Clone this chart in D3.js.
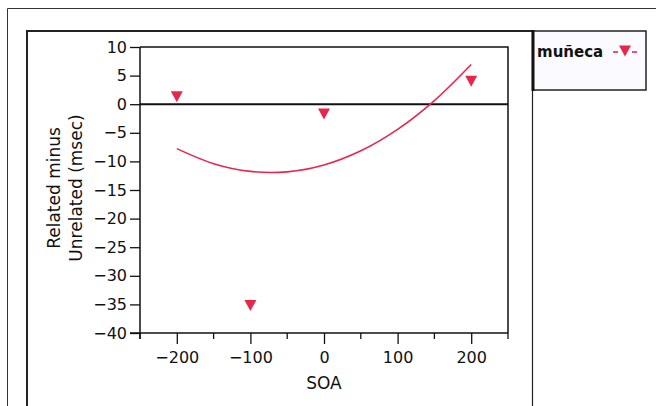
<!DOCTYPE html>
<html><head><meta charset="utf-8">
<script src="https://cdn.jsdelivr.net/npm/d3@7"></script>
<style>html,body{margin:0;padding:0;background:#fff;}svg{display:block;font-family:"DejaVu Sans",sans-serif;}</style>
</head><body>
<svg id="c" width="656" height="406"></svg>
<script>
// Data
const soa = [-200, -100, 0, 200];
const diff = [1.3, -35.2, -1.7, 4.0];
// Fitted curve
const curveX = [-200, -150, -100, -50, 0, 50, 100, 150, 200];
const curveY = [-7.77, -10.4, -11.75, -11.83, -10.63, -8.15, -4.4, 0.63, 6.94];
const yTicks = [10, 5, 0, -5, -10, -15, -20, -25, -30, -35, -40];
const xMajor = [-200, -100, 0, 100, 200];
const xMinor = [-250, -150, -50, 50, 150, 250];
const seriesName = "muñeca";
const red = "#e8264c";

const svg = d3.select("#c");
const x = d3.scaleLinear().domain([-250, 250]).range([140, 508]);
const y = d3.scaleLinear().domain([-40, 10]).range([333, 47]);

// outer frames
svg.append("path").attr("d", "M7.5,406 V8.5 H656").attr("fill", "none").attr("stroke", "#333").attr("stroke-width", 1);
svg.append("path").attr("d", "M27,406 V31 H533").attr("fill", "none").attr("stroke", "#222").attr("stroke-width", 2);
svg.append("line").attr("x1", 532.5).attr("x2", 532.5).attr("y1", 31).attr("y2", 406).attr("stroke", "#222").attr("stroke-width", 1.2);

// legend
const lg = svg.append("g");
lg.append("rect").attr("x", 533).attr("y", 31).attr("width", 113).attr("height", 59)
  .attr("fill", "#fbfbff").attr("stroke", "#222").attr("stroke-width", 1.5);
lg.append("line").attr("x1", 533).attr("x2", 533).attr("y1", 30).attr("y2", 91).attr("stroke", "#111").attr("stroke-width", 3);
lg.append("text").attr("x", 537).attr("y", 57).attr("font-size", 15).attr("font-weight", "bold").attr("fill", "#111").text(seriesName);
lg.append("line").attr("x1", 613).attr("x2", 618).attr("y1", 52).attr("y2", 52).attr("stroke", red).attr("stroke-width", 1.6);
lg.append("line").attr("x1", 632).attr("x2", 637).attr("y1", 52).attr("y2", 52).attr("stroke", red).attr("stroke-width", 1.6);
const tri = "M-6,-5.5 L6,-5.5 L0,5.5 Z";
lg.append("path").attr("d", tri).attr("transform", "translate(625,51)").attr("fill", red);

// plot frame (top, right)
svg.append("path").attr("d", `M${x(-250)},${y(10)} H${x(250)} V${y(-40)}`).attr("fill", "none").attr("stroke", "#111").attr("stroke-width", 1.5);

// zero line
svg.append("line").attr("x1", x(-250)).attr("x2", x(250)).attr("y1", y(0)).attr("y2", y(0)).attr("stroke", "#111").attr("stroke-width", 2);

// y axis
const ya = svg.append("g").attr("transform", `translate(${x(-250)},0)`)
  .call(d3.axisLeft(y).tickValues(yTicks).tickSize(10).tickPadding(3).tickFormat(d3.format("d")));
ya.select(".domain").attr("stroke", "#111").attr("stroke-width", 1.5).attr("d", `M0,${y(10)}V${y(-40)+6}`);
ya.selectAll(".tick line").attr("stroke", "#111").attr("stroke-width", 1.3);
ya.selectAll("text").attr("font-size", 16).attr("font-family", "DejaVu Sans").attr("fill", "#111");

// x axis
const xa = svg.append("g").attr("transform", `translate(0,${y(-40)})`)
  .call(d3.axisBottom(x).tickValues(xMajor).tickSize(11).tickPadding(8).tickFormat(d3.format("d")));
xa.select(".domain").attr("stroke", "#111").attr("stroke-width", 1.5).attr("d", `M${x(-250)-10},0H${x(250)}`);
xa.selectAll(".tick line").attr("stroke", "#111").attr("stroke-width", 1.3);
xa.selectAll("text").attr("font-size", 16).attr("font-family", "DejaVu Sans").attr("fill", "#111");
svg.append("g").selectAll("line").data(xMinor).join("line")
  .attr("x1", d => x(d)).attr("x2", d => x(d)).attr("y1", y(-40)).attr("y2", y(-40) + 6)
  .attr("stroke", "#111").attr("stroke-width", 1.3);

// axis titles
svg.append("text").attr("x", x(0)).attr("y", 389).attr("text-anchor", "middle").attr("font-size", 17).attr("fill", "#111").text("SOA");
const yt = svg.append("text").attr("transform", "translate(0,188) rotate(-90)").attr("text-anchor", "middle").attr("font-size", 17).attr("fill", "#111");
yt.append("tspan").attr("x", 0).attr("y", 60).text("Related minus");
yt.append("tspan").attr("x", 0).attr("y", 82).text("Unrelated (msec)");

// fit curve
const line = d3.line().x((d, i) => x(curveX[i])).y(d => y(d)).curve(d3.curveCatmullRom);
svg.append("path").datum(curveY).attr("d", line).attr("fill", "none").attr("stroke", red).attr("stroke-width", 1.6);

// points
svg.append("g").selectAll("path").data(soa).join("path")
  .attr("d", tri).attr("transform", (d, i) => `translate(${x(d)},${y(diff[i])})`).attr("fill", red);
</script>
</body></html>
